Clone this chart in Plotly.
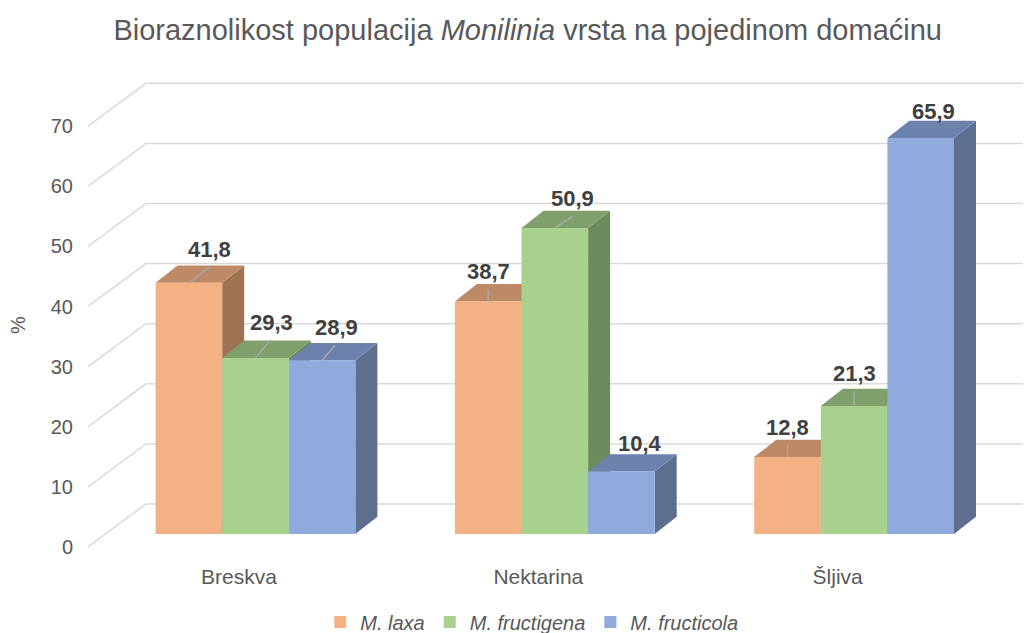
import plotly.graph_objects as go

# data
categories = ["Breskva", "Nektarina", "Šljiva"]
series_names = ["M. laxa", "M. fructigena", "M. fructicola"]
laxa = [41.8, 38.7, 12.8]
fructigena = [29.3, 50.9, 21.3]
fructicola = [28.9, 10.4, 65.9]
yticks = [0, 10, 20, 30, 40, 50, 60, 70]

values = [laxa, fructigena, fructicola]

# styling
front_cols = ["#F4B183", "#A9D18E", "#8FAADC"]
top_cols = ["#BE8966", "#7F9F6B", "#6C82AD"]
side_cols = ["#9E7352", "#6D8A5C", "#5D6E8F"]
grid_col = "#D9D9D9"
txt_col = "#595959"
font = "Liberation Sans, Arial, sans-serif"

W = 0.2225        # bar width in category units
DX = 0.0735       # depth shift (x, category units)
DY = 2.88         # depth shift (y, value units)
WALL = 4.99       # back wall offset in value units
FLOOR = -2.15     # front edge of floor
XR = [-0.5596, 2.5877]
YR = [-4.326, 75.54]

# label nudges in pixels (xshift, yshift) and leader lines (dx, dy)
nudge = [[(21, 33), (0, 30), (0, 30)],
         [(16, 35), (18, 30), (0, 32)],
         [(14, 33), (19, 28), (13, 26)]]
leader = [[(21, 16), (0, 12), (0, 13)],
          [(15, 18), (18, 12), (0, 15)],
          [(13, 15), None, None]]

fig = go.Figure()
shapes = []
annos = []

# back wall grid lines
for v in yticks:
    shapes.append(dict(type="path", layer="below",
                       path="M %f,%f L %f,%f L %f,%f" % (XR[0], v + FLOOR, XR[0] + 0.1936, v + WALL, XR[1], v + WALL),
                       line=dict(color=grid_col, width=1.5)))

# top / side faces, left to right so later bars cover earlier ones
for c in range(len(categories)):
    for s in range(3):
        v = values[s][c]
        left = c - 1.5 * W + s * W
        right = left + W
        side = "M %f,0 L %f,%f L %f,%f L %f,%f Z" % (right, right, v, right + DX, v + DY, right + DX, DY)
        top = "M %f,%f L %f,%f L %f,%f L %f,%f Z" % (left, v, right, v, right + DX, v + DY, left + DX, v + DY)
        shapes.append(dict(type="path", layer="below", path=side, fillcolor=side_cols[s], line=dict(width=0)))
        shapes.append(dict(type="path", layer="below", path=top, fillcolor=top_cols[s], line=dict(width=0)))

for s in range(3):
    fig.add_trace(go.Bar(x=list(range(len(categories))), y=values[s], width=W,
                         offset=-1.5 * W + s * W, name="<i>%s</i>" % series_names[s],
                         marker=dict(color=front_cols[s], line=dict(width=0))))
    for c in range(len(categories)):
        v = values[s][c]
        xc = c - W + s * W
        annos.append(dict(x=xc, y=v, xref="x", yref="y", text="<b>%s</b>" % str(v).replace(".", ","),
                          showarrow=False, xanchor="center", yanchor="middle",
                          xshift=nudge[s][c][0], yshift=nudge[s][c][1],
                          font=dict(size=22, color="#404040", family=font)))
        if leader[s][c]:
            ldx, ldy = leader[s][c]
            shapes.append(dict(type="line", xref="x", yref="y", xsizemode="pixel", ysizemode="pixel",
                               xanchor=xc, yanchor=v, x0=0, y0=0, x1=ldx, y1=ldy,
                               line=dict(color="#A6A6A6", width=1.5)))

annos.append(dict(x=-0.088, y=0.49, xref="paper", yref="paper", text="%", textangle=-90,
                  showarrow=False, font=dict(size=20, color=txt_col, family=font)))

fig.update_layout(
    width=1023, height=625,
    margin=dict(l=80, r=1, t=72, b=73),
    paper_bgcolor="white", plot_bgcolor="white",
    font=dict(family=font, color=txt_col),
    title=dict(text="Bioraznolikost populacija <i>Monilinia</i> vrsta na pojedinom domaćinu",
               xref="container", yref="container", x=0.508, y=0.965, xanchor="center", yanchor="middle",
               font=dict(size=29, color=txt_col, family=font)),
    xaxis=dict(range=XR, showgrid=False, zeroline=False, showline=False,
               tickvals=[c - 0.055 for c in range(len(categories))], ticktext=categories,
               ticks="", ticklabelstandoff=2, tickfont=dict(size=21, color=txt_col)),
    yaxis=dict(range=YR, showgrid=False, zeroline=False, showline=False,
               tickvals=[v + FLOOR for v in yticks], ticktext=[str(v) for v in yticks],
               ticks="", ticklabelstandoff=14, tickfont=dict(size=20, color=txt_col)),
    showlegend=True,
    legend=dict(orientation="h", xref="container", yref="container", x=0.512, y=0.0176,
                xanchor="center", yanchor="middle", font=dict(size=20, color=txt_col),
                itemwidth=30, traceorder="normal"),
    shapes=shapes, annotations=annos,
)

fig.write_html("out.html")
